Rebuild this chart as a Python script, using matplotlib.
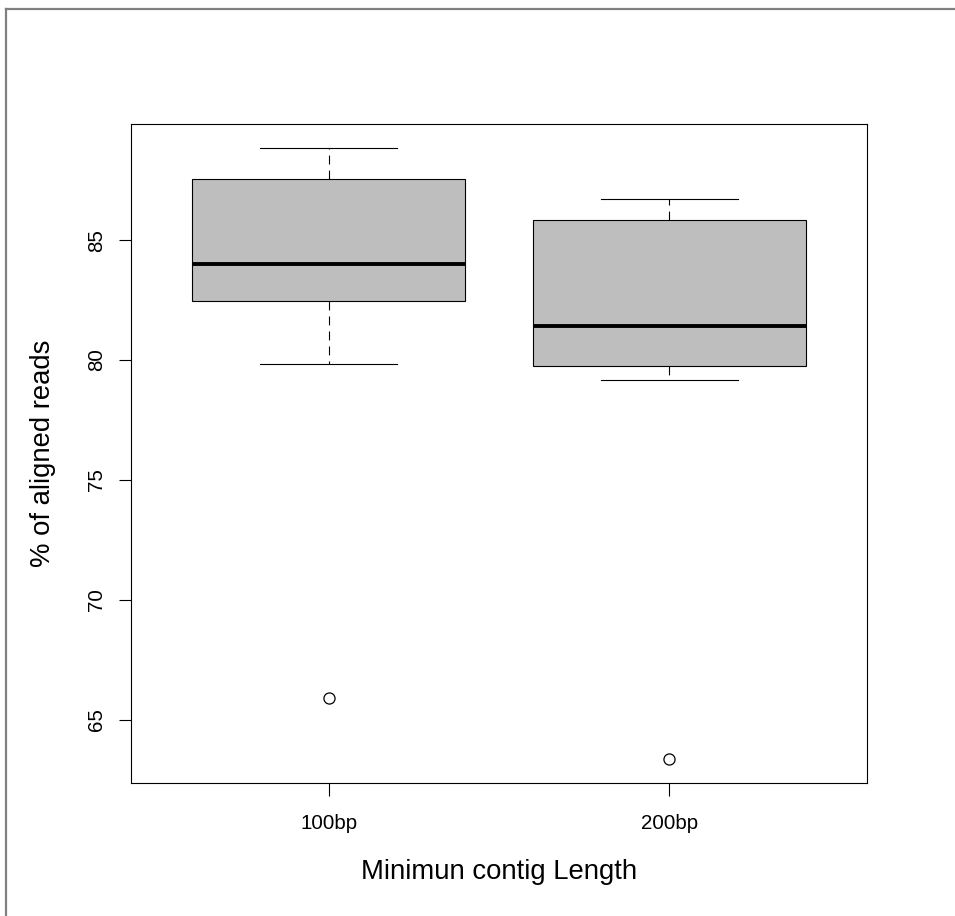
import matplotlib
matplotlib.use("Agg")
import matplotlib.pyplot as plt
from matplotlib.lines import Line2D

# Values
groups = ["100bp", "200bp"]
whisker_low = [79.83, 79.17]
q1 = [82.45, 79.75]
medians = [84.0, 81.4]
q3 = [87.55, 85.85]
whisker_high = [88.83, 86.72]
outliers = [[65.9], [63.35]]

plt.rcParams['font.family'] = ['Liberation Sans', 'DejaVu Sans']

fig = plt.figure(figsize=(9.55, 9.16), dpi=100)
ax = fig.add_axes([131 / 955, 1 - 783 / 916, (867 - 131) / 955, (783 - 124) / 916])

stats = []
for i, g in enumerate(groups):
    stats.append(dict(label=g, whislo=whisker_low[i], q1=q1[i], med=medians[i],
                      q3=q3[i], whishi=whisker_high[i], fliers=outliers[i]))

ax.bxp(stats, positions=[1, 2], widths=0.8, capwidths=0.4, patch_artist=True,
       boxprops=dict(facecolor="#bebebe", edgecolor="black", linewidth=0.8),
       medianprops=dict(color="black", linewidth=2.8, solid_capstyle="butt"),
       whiskerprops=dict(color="black", linewidth=0.8, linestyle=(0, (8, 5.5))),
       capprops=dict(color="black", linewidth=0.8),
       flierprops=dict(marker="o", markerfacecolor="none", markeredgecolor="black",
                       markersize=8, markeredgewidth=0.9))

ax.set_xlim(0.42, 2.58)
ax.set_ylim(62.36, 89.84)
ax.set_yticks([65, 70, 75, 80, 85])
ax.set_xticks([1, 2])
ax.set_xticklabels(groups)
for lbl in ax.get_yticklabels():
    lbl.set_rotation(90)
    lbl.set_va("center")
ax.tick_params(direction="out", length=9, width=0.8, labelsize=14.8, pad=9)
ax.tick_params(axis="x", pad=13)
for s in ax.spines.values():
    s.set_linewidth(0.8)

ax.set_xlabel("Minimun contig Length", fontsize=19.8, labelpad=19)
ax.set_ylabel("% of aligned reads", fontsize=19.8, labelpad=22)

# gray frame along the left and top edges of the picture
fig.add_artist(Line2D([6 / 955, 6 / 955], [0, 1 - 9 / 916], color="#808080",
                      linewidth=1.6, transform=fig.transFigure))
fig.add_artist(Line2D([6 / 955, 1], [1 - 9 / 916, 1 - 9 / 916], color="#808080",
                      linewidth=1.6, transform=fig.transFigure))

fig.savefig("out.png", dpi=100)
